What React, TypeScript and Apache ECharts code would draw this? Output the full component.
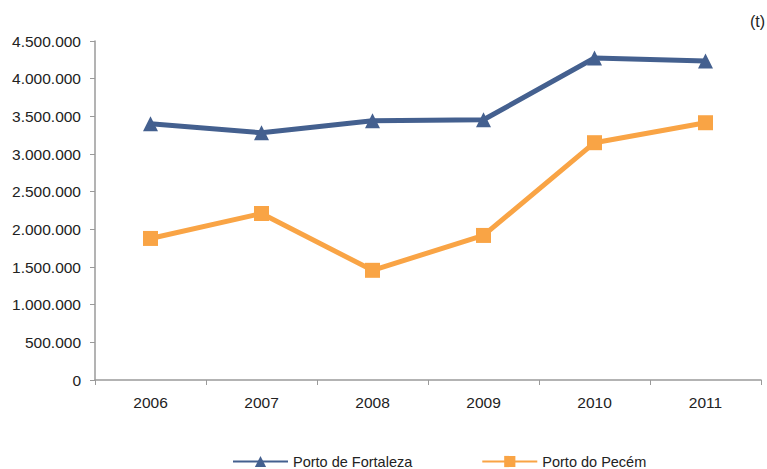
import React, { useEffect, useRef } from "react";
import * as echarts from "echarts";

const years = ["2006", "2007", "2008", "2009", "2010", "2011"];
const fortaleza = [3401000, 3282000, 3441000, 3454000, 4275000, 4235000];
const pecem = [1879000, 2210000, 1456000, 1919000, 3150000, 3415000];
const seriesNames = ["Porto de Fortaleza", "Porto do Pecém"];
const unitLabel = "(t)";

const FONT = "'Liberation Sans', Arial, sans-serif";

function fmt(v: number): string {
  return String(Math.round(v)).replace(/\B(?=(\d{3})+(?!\d))/g, ".");
}

export default function App() {
  const ref = useRef<HTMLDivElement>(null);
  useEffect(() => {
    if (!ref.current) return;
    const chart = echarts.init(ref.current, undefined, { renderer: "svg" });
    chart.setOption({
      animation: false,
      backgroundColor: "#ffffff",
      grid: { left: 95, right: 6, top: 41, bottom: 89, containLabel: false },
      graphic: [
        {
          type: "text",
          right: 2,
          top: 13,
          style: { text: unitLabel, font: `16px ${FONT}`, fill: "#222" },
        },
      ],
      legend: {
        top: 449,
        left: 227,
        itemWidth: 55,
        itemHeight: 14,
        itemGap: 69,
        textStyle: { fontFamily: FONT, fontSize: 14.5, color: "#222" },
        data: seriesNames,
      },
      xAxis: {
        type: "category",
        data: years,
        boundaryGap: true,
        axisLine: { lineStyle: { color: "#9a9a9a", width: 1.5 } },
        axisTick: { show: true, length: 5, lineStyle: { color: "#9a9a9a" } },
        axisLabel: { fontFamily: FONT, fontSize: 15.5, color: "#222", margin: 14 },
      },
      yAxis: {
        type: "value",
        min: 0,
        max: 4500000,
        interval: 500000,
        axisLine: { show: true, lineStyle: { color: "#9a9a9a", width: 1.5 } },
        axisTick: { show: true, length: 5, lineStyle: { color: "#9a9a9a" } },
        splitLine: { show: false },
        axisLabel: {
          fontFamily: FONT,
          fontSize: 15.5,
          color: "#222",
          margin: 14,
          formatter: (v: number) => fmt(v),
        },
      },
      series: [
        {
          name: seriesNames[0],
          type: "line",
          data: fortaleza,
          symbol: "triangle",
          symbolSize: 15,
          itemStyle: { color: "#44608f" },
          lineStyle: { color: "#44608f", width: 5 },
        },
        {
          name: seriesNames[1],
          type: "line",
          data: pecem,
          symbol: "rect",
          symbolSize: 15,
          itemStyle: { color: "#f9a445" },
          lineStyle: { color: "#f9a445", width: 5 },
        },
      ],
    });
    return () => chart.dispose();
  }, []);
  return <div ref={ref} style={{ width: 767, height: 469, position: "absolute", left: 0, top: 0 }} />;
}
